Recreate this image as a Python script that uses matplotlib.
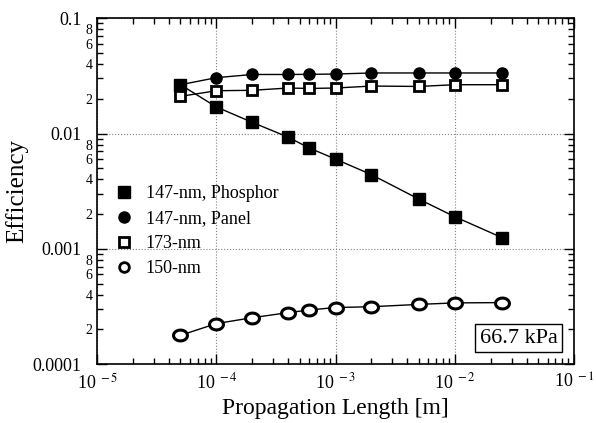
import math
import matplotlib
matplotlib.use("Agg")
import matplotlib.pyplot as plt
from matplotlib.ticker import LogLocator, FixedLocator, FixedFormatter, NullFormatter, FuncFormatter
from matplotlib.lines import Line2D
from matplotlib.path import Path
import numpy as np

plt.rcParams['font.family'] = ['Liberation Serif', 'DejaVu Serif']
plt.rcParams['mathtext.fontset'] = 'stix'

length = [5e-5, 1e-4, 2e-4, 4e-4, 6e-4, 1e-3, 2e-3, 5e-3, 1e-2, 2.5e-2]
phosphor_147 = [0.0265, 0.0170, 0.0125, 0.0093, 0.0075, 0.0060, 0.0044, 0.0027, 0.0019, 0.00125]
panel_147 = [0.0265, 0.0305, 0.0325, 0.0325, 0.0326, 0.0328, 0.0335, 0.0335, 0.0335, 0.0335]
nm_173 = [0.0210, 0.0235, 0.0237, 0.0248, 0.0246, 0.0248, 0.0258, 0.0256, 0.0265, 0.0265]
nm_150 = [0.000178, 0.000225, 0.000253, 0.000280, 0.000295, 0.000310, 0.000315, 0.000330, 0.000340, 0.000342]

labels = ["147-nm, Phosphor", "147-nm, Panel", "173-nm", "150-nm"]
ytick_major = [1e-4, 1e-3, 1e-2, 1e-1]
ytick_major_labels = ["0.0001", "0.001", "0.01", "0.1"]
xtick_major = [1e-5, 1e-4, 1e-3, 1e-2, 1e-1]
xtick_major_labels = ["10$^{\\ -5}$", "10$^{\\ -4}$", "10$^{\\ -3}$", "10$^{\\ -2}$", "10$^{\\ -1}$"]

# ellipse marker (wider than tall)
t = np.linspace(0, 2 * np.pi, 60)
ellipse = Path(np.column_stack([1.0 * np.cos(t), 0.78 * np.sin(t)]), closed=True)

fig = plt.figure(figsize=(5.96, 4.23), dpi=100)
ax = fig.add_axes([0.163, 0.139, 0.800, 0.818])

ax.plot(length, phosphor_147, color='black', lw=1, marker='s', ms=8, mfc='black', mec='black')
ax.plot(length, panel_147, color='black', lw=1, marker='o', ms=8, mfc='black', mec='black')
ax.plot(length, nm_173, color='black', lw=1, marker='s', ms=7.5, mfc='white', mec='black', mew=2)
ax.plot(length, nm_150, color='black', lw=1, marker=ellipse, ms=10, mfc='white', mec='black', mew=2.2)

ax.set_xscale('log')
ax.set_yscale('log')
ax.set_xlim(1e-5, 1e-1)
ax.set_ylim(1e-4, 1e-1)

ax.xaxis.set_major_locator(FixedLocator(xtick_major))
ax.xaxis.set_major_formatter(FixedFormatter(xtick_major_labels))
ax.xaxis.set_minor_locator(LogLocator(base=10, subs=range(2, 10)))
ax.xaxis.set_minor_formatter(NullFormatter())

ax.yaxis.set_major_locator(FixedLocator(ytick_major))
ax.yaxis.set_major_formatter(FixedFormatter(ytick_major_labels))
ax.yaxis.set_minor_locator(LogLocator(base=10, subs=range(2, 10)))

def minor_fmt(v, pos):
    m = round(v / 10 ** math.floor(math.log10(v) + 1e-9))
    return str(m) if m in (2, 4, 6, 8) else ""
ax.yaxis.set_minor_formatter(FuncFormatter(minor_fmt))

ax.tick_params(which='both', direction='in', top=True, right=True)
ax.tick_params(which='major', length=7, width=1, labelsize=13)
ax.tick_params(which='minor', length=4, width=1)
ax.tick_params(axis='y', which='major', pad=11)
ax.tick_params(axis='y', which='minor', labelsize=10, pad=3.5)
ax.tick_params(axis='x', which='major', pad=6)

ax.grid(True, which='major', linestyle=':', color='gray', lw=0.8)
for s in ax.spines.values():
    s.set_linewidth(1.2)

ax.set_xlabel("Propagation Length [m]", fontsize=17, labelpad=4)
ax.set_ylabel("Efficiency", fontsize=18)
ax.yaxis.set_label_coords(-0.145, 0.5)

handles = [
    Line2D([], [], ls='none', marker='s', ms=8, mfc='black', mec='black'),
    Line2D([], [], ls='none', marker='o', ms=8, mfc='black', mec='black'),
    Line2D([], [], ls='none', marker='s', ms=7, mfc='white', mec='black', mew=2),
    Line2D([], [], ls='none', marker='o', ms=7, mfc='white', mec='black', mew=2),
]
ax.legend(handles, labels, loc='upper left', bbox_to_anchor=(0.0, 0.565), frameon=False,
          fontsize=13, handletextpad=0.6, labelspacing=0.45, handlelength=1.2)

ax.text(0.966, 0.075, "66.7 kPa", transform=ax.transAxes, ha='right', va='center', fontsize=16,
        bbox=dict(boxstyle='square,pad=0.2', fc='white', ec='black', lw=1))

fig.savefig("out.png", dpi=100)
